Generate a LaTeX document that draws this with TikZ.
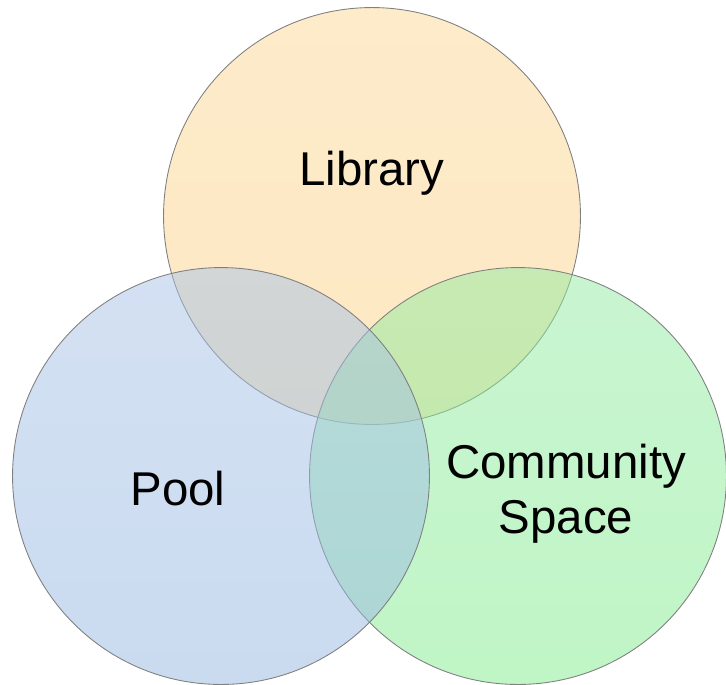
\documentclass[tikz,border=0pt]{standalone}
\usepackage{fontspec}
\setmainfont{Liberation Sans}
\usetikzlibrary{positioning}

\definecolor{libtop}{RGB}{251,215,149}
\definecolor{libbot}{RGB}{251,209,133}
\definecolor{pooltop}{RGB}{169,195,231}
\definecolor{poolbot}{RGB}{149,183,225}
\definecolor{commtop}{RGB}{147,235,163}
\definecolor{commbot}{RGB}{129,235,141}

\begin{document}
\begin{tikzpicture}[
    x=0.02cm, y=-0.02cm,
    set/.style = {circle, draw=black!50, line width=0.5pt, fill opacity=0.5, minimum size=8.34cm, inner sep=0pt},
    setname/.style = {font=\fontsize{27}{31.5}\selectfont, align=center, text=black}
]

    \useasboundingbox (0,0) rectangle (726,684);

    % Sets (pool last, so it lies on top)
    \node (lib) [set, top color=libtop, bottom color=libbot] at (372,216) {};
    \node (comm) [set, top color=commtop, bottom color=commbot] at (518,476) {};
    \node (pool) [set, top color=pooltop, bottom color=poolbot] at (221,476) {};

    % Names
    \node (libname) [setname] at (372,173) {Library};
    \node (poolname) [setname] at (178,489) {Pool};
    \node (commname) [setname] at (566,494) {Community\\Space};

\end{tikzpicture}
\end{document}
